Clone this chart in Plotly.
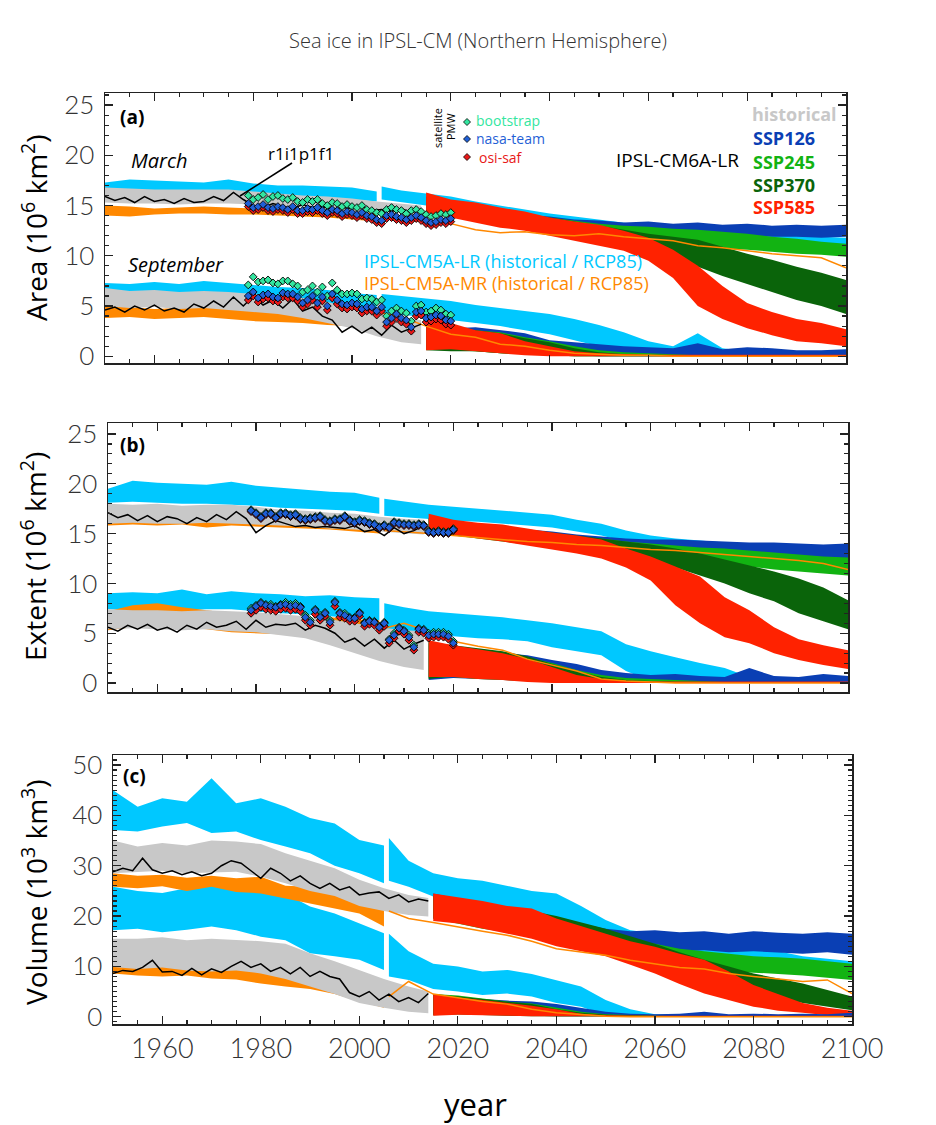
import plotly.graph_objects as go

W, H = 936, 1125

# ---------------- year grids ----------------
YEARS_CM5_H = [1950, 1955, 1960, 1965, 1970, 1975, 1980, 1985, 1990, 1995, 2000, 2005]
YEARS_CM5_F = [2006, 2010, 2015, 2020, 2025, 2030, 2035, 2040, 2045, 2050, 2055, 2060,
               2065, 2070, 2075, 2080, 2085, 2090, 2095, 2100]
YEARS_HIST = [1950, 1955, 1960, 1965, 1970, 1975, 1980, 1985, 1990, 1995, 2000, 2005, 2010, 2014]
YEARS_SSP = [2015, 2020, 2025, 2030, 2035, 2040, 2045, 2050, 2055, 2060, 2065, 2070,
             2075, 2080, 2085, 2090, 2095, 2100]
YEARS_R1 = list(range(1950, 2015, 2))
YEARS_SAT = list(range(1979, 2021))

# ================= (a) AREA =================
A_MAR_LR_H_UP = [17.3, 17.6, 17.5, 17.4, 17.3, 17.6, 17.2, 17.0, 17.0, 16.9, 16.8, 16.4]
A_MAR_LR_H_LO = [16.2, 16.3, 16.2, 16.1, 16.1, 16.0, 15.9, 15.8, 15.8, 15.7, 15.6, 15.4]
A_MAR_LR_F_UP = [16.9, 16.5, 16.2, 15.9, 15.4, 15.0, 14.6, 14.2, 13.9, 13.6, 13.3, 13.0, 12.8, 12.6, 12.4, 12.3, 12.2, 12.0, 11.9, 11.8]
A_MAR_LR_F_LO = [15.6, 15.3, 15.0, 14.7, 14.3, 13.9, 13.5, 13.1, 12.8, 12.5, 12.2, 11.9, 11.7, 11.5, 11.3, 11.2, 11.1, 11.0, 10.9, 10.8]
A_MAR_MR_H_UP = [15.0, 14.9, 14.7, 14.8, 14.9, 14.8, 14.7, 14.7, 14.6, 14.5, 14.4, 14.2]
A_MAR_MR_H_LO = [14.0, 13.9, 14.1, 14.2, 14.2, 14.1, 14.1, 14.0, 13.9, 13.8, 13.6, 13.4]
A_MAR_MR_F = [13.9, 13.6, 13.4, 13.2, 12.6, 12.3, 12.4, 12.1, 12.0, 12.2, 11.9, 11.7, 11.5, 11.0, 10.8, 10.5, 10.2, 10.0, 9.8, 8.8]
A_MAR_HIST_UP = [16.8, 16.7, 16.6, 16.6, 16.6, 16.6, 16.4, 16.2, 16.0, 15.9, 15.7, 15.4, 15.2, 15.0]
A_MAR_HIST_LO = [15.3, 15.2, 15.2, 15.1, 15.2, 15.2, 15.1, 14.9, 14.8, 14.7, 14.5, 14.3, 14.2, 14.1]
A_MAR_R1 = [15.9, 15.5, 15.8, 15.3, 15.9, 15.4, 15.6, 15.2, 15.7, 15.3, 15.4, 15.9, 15.5, 16.3, 15.6, 15.0, 14.8,
            15.2, 14.9, 14.7, 15.1, 14.8, 14.9, 14.6, 14.8, 14.7, 14.9, 14.5, 14.6, 14.4, 14.7, 14.3, 14.6]
A_MAR_126_UP = [15.8, 15.2, 14.9, 14.4, 14.0, 13.9, 13.6, 13.5, 13.3, 13.4, 13.2, 13.3, 13.1, 13.2, 13.0, 13.1, 13.0, 13.1]
A_MAR_126_LO = [14.4, 13.9, 13.6, 13.1, 12.9, 12.7, 12.5, 12.3, 12.2, 12.2, 12.0, 12.1, 11.9, 12.0, 11.9, 11.9, 11.8, 11.9]
A_MAR_245_UP = [15.8, 15.3, 14.8, 14.5, 14.1, 13.8, 13.5, 13.2, 13.0, 12.9, 12.7, 12.6, 12.4, 12.2, 11.9, 11.7, 11.4, 11.2]
A_MAR_245_LO = [14.3, 13.9, 13.5, 13.1, 12.8, 12.5, 12.2, 11.8, 11.5, 11.2, 11.0, 10.9, 10.7, 10.6, 10.4, 10.2, 10.1, 9.9]
A_MAR_370_UP = [15.9, 15.4, 14.9, 14.6, 14.2, 13.8, 13.4, 13.0, 12.6, 12.2, 11.9, 11.6, 10.9, 10.2, 9.6, 8.9, 8.3, 7.6]
A_MAR_370_LO = [14.4, 14.0, 13.6, 13.2, 12.8, 12.4, 12.0, 11.7, 11.0, 10.2, 9.6, 8.9, 8.0, 7.2, 6.4, 5.6, 5.0, 4.2]
A_MAR_585_UP = [16.3, 15.6, 15.3, 14.8, 14.4, 13.8, 13.4, 13.1, 12.5, 11.8, 10.6, 9.0, 7.0, 5.3, 4.4, 3.7, 3.3, 2.7]
A_MAR_585_LO = [14.3, 13.8, 13.3, 12.8, 12.5, 12.0, 11.5, 11.0, 10.5, 9.5, 7.8, 5.0, 3.7, 2.8, 2.1, 1.5, 1.3, 1.0]

A_SEP_LR_H_UP = [7.3, 7.2, 7.4, 7.2, 7.5, 7.3, 7.1, 6.9, 6.8, 6.6, 6.3, 6.1]
A_SEP_LR_H_LO = [6.0, 5.9, 6.0, 5.9, 6.0, 5.9, 5.7, 5.5, 5.2, 4.9, 4.5, 4.2]
A_SEP_LR_F_UP = [6.2, 6.0, 5.8, 5.5, 5.1, 4.8, 4.5, 4.2, 3.7, 3.1, 2.4, 1.5, 1.0, 2.3, 0.8, 0.5, 0.3, 0.2, 0.2, 0.1]
A_SEP_LR_F_LO = [4.3, 4.1, 3.9, 3.6, 3.3, 3.0, 2.6, 2.2, 1.6, 1.0, 0.5, 0.2, 0.1, 0.1, 0.0, 0.0, 0.0, 0.0, 0.0, 0.0]
A_SEP_MR_H_UP = [5.0, 4.9, 4.7, 4.8, 4.9, 4.7, 4.6, 4.4, 4.3, 4.1, 3.9, 3.7]
A_SEP_MR_H_LO = [3.8, 3.9, 3.7, 3.8, 3.9, 3.7, 3.5, 3.4, 3.3, 3.1, 3.0, 2.8]
A_SEP_MR_F = [4.3, 3.9, 3.0, 2.2, 1.9, 1.2, 1.0, 0.6, 0.3, 0.2, 0.1, 0.1, 0.0, 0.0, 0.0, 0.0, 0.0, 0.0, 0.0, 0.0]
A_SEP_HIST_UP = [6.8, 6.5, 6.6, 6.4, 6.5, 6.4, 6.2, 6.0, 5.8, 5.4, 4.8, 4.2, 3.8, 3.6]
A_SEP_HIST_LO = [5.0, 4.8, 4.9, 4.7, 4.8, 4.6, 4.4, 4.2, 3.8, 3.3, 2.8, 2.0, 1.4, 1.2]
A_SEP_R1 = [4.6, 4.9, 4.4, 5.0, 4.6, 5.1, 4.5, 4.8, 4.4, 5.2, 4.8, 5.5, 4.9, 5.9, 5.0, 6.0, 5.1,
            5.6, 4.8, 5.7, 4.5, 4.9, 4.0, 3.6, 2.4, 3.0, 2.3, 2.9, 2.1, 3.1, 2.4, 2.8, 3.2]
A_SEP_126_UP = [3.4, 2.8, 2.9, 2.6, 2.3, 1.6, 1.4, 1.2, 1.0, 0.9, 0.8, 1.3, 0.7, 0.9, 0.8, 0.6, 0.6, 0.7]
A_SEP_126_LO = [0.8, 0.6, 0.6, 0.5, 0.3, 0.2, 0.1, 0.0, 0.0, 0.0, 0.0, 0.0, 0.0, 0.0, 0.0, 0.0, 0.0, 0.0]
A_SEP_245_UP = [3.0, 2.9, 2.6, 2.4, 1.9, 1.5, 1.0, 0.6, 0.4, 0.3, 0.2, 0.1, 0.1, 0.1, 0.1, 0.1, 0.1, 0.1]
A_SEP_245_LO = [0.7, 0.6, 0.5, 0.3, 0.2, 0.1, 0.0, 0.0, 0.0, 0.0, 0.0, 0.0, 0.0, 0.0, 0.0, 0.0, 0.0, 0.0]
A_SEP_370_UP = [3.1, 2.8, 2.6, 2.3, 1.8, 1.4, 0.8, 0.4, 0.2, 0.1, 0.1, 0.1, 0.1, 0.1, 0.1, 0.1, 0.1, 0.1]
A_SEP_370_LO = [0.6, 0.5, 0.5, 0.3, 0.2, 0.1, 0.0, 0.0, 0.0, 0.0, 0.0, 0.0, 0.0, 0.0, 0.0, 0.0, 0.0, 0.0]
A_SEP_585_UP = [3.6, 3.3, 2.6, 2.3, 1.5, 1.0, 0.5, 0.3, 0.2, 0.15, 0.15, 0.15, 0.15, 0.15, 0.15, 0.15, 0.15, 0.15]
A_SEP_585_LO = [0.6, 0.7, 0.5, 0.3, 0.1, 0.0, 0.0, 0.0, 0.0, 0.0, 0.0, 0.0, 0.0, 0.0, 0.0, 0.0, 0.0, 0.0]

A_MAR_NASA = [15.2, 14.8, 14.9, 15.1, 14.8, 14.7, 14.9, 14.8, 14.6, 14.9, 14.5, 14.5, 14.7, 14.6, 14.8, 14.5, 14.3, 14.6, 14.5, 14.2, 14.4,
              14.3, 14.1, 14.3, 14.0, 13.9, 13.6, 13.5, 14.0, 14.1, 13.9, 13.8, 13.6, 13.8, 14.0, 13.8, 13.5, 13.3, 13.4, 13.6, 13.5, 13.7]
A_MAR_BOOT = [16.0, 15.6, 15.8, 16.1, 15.6, 15.9, 16.0, 15.7, 15.6, 15.8, 15.4, 15.3, 15.6, 15.4, 15.6, 15.2, 15.0, 15.3, 15.2, 14.9, 15.1,
              14.9, 14.8, 15.0, 14.6, 14.5, 14.3, 14.2, 14.6, 14.8, 14.6, 14.5, 14.2, 14.5, 14.6, 14.4, 14.1, 13.9, 14.0, 14.2, 14.1, 14.3]
A_MAR_OSI = [14.9, 14.5, 14.6, 14.8, 14.5, 14.4, 14.6, 14.5, 14.3, 14.6, 14.2, 14.2, 14.4, 14.3, 14.5, 14.2, 14.0, 14.3, 14.2, 13.9, 14.1,
             14.0, 13.8, 14.0, 13.7, 13.6, 13.3, 13.2, 13.7, 13.8, 13.6, 13.5, 13.3, 13.5, 13.7, 13.5, 13.2, 13.0, 13.1, 13.3, 13.2, 13.4]
A_SEP_NASA = [6.0, 6.4, 5.8, 6.1, 6.2, 5.9, 5.8, 6.3, 6.2, 6.2, 5.9, 5.3, 5.6, 6.0, 5.3, 5.9, 5.0, 6.2, 5.6, 5.2, 5.1,
              5.3, 5.2, 4.7, 4.9, 4.9, 4.5, 4.9, 3.4, 3.8, 4.2, 3.8, 3.6, 2.9, 4.4, 4.5, 3.8, 3.9, 4.1, 4.0, 3.6, 3.5]
A_SEP_BOOT = [7.1, 7.9, 7.4, 7.5, 7.6, 7.3, 7.2, 7.5, 7.5, 7.2, 7.0, 6.4, 6.6, 7.0, 6.4, 6.9, 6.0, 7.3, 6.6, 6.2, 6.2,
              6.3, 6.2, 5.7, 5.8, 5.7, 5.4, 5.6, 4.0, 4.5, 4.8, 4.5, 4.3, 3.5, 5.0, 5.1, 4.4, 4.5, 4.8, 4.6, 4.2, 4.1]
A_SEP_OSI = [5.6, 6.0, 5.4, 5.7, 5.8, 5.5, 5.4, 5.9, 5.8, 5.8, 5.5, 4.9, 5.2, 5.6, 4.9, 5.5, 4.6, 5.8, 5.2, 4.8, 4.7,
             4.9, 4.8, 4.3, 4.5, 4.5, 4.1, 4.5, 3.0, 3.4, 3.8, 3.4, 3.2, 2.5, 4.0, 4.1, 3.4, 3.5, 3.7, 3.6, 3.2, 3.1]

# ================= (b) EXTENT =================
B_MAR_LR_H_UP = [19.5, 20.3, 20.1, 20.0, 19.9, 20.2, 19.8, 19.6, 19.4, 19.2, 19.1, 18.6]
B_MAR_LR_H_LO = [18.1, 18.2, 18.1, 18.0, 18.0, 17.9, 17.8, 17.6, 17.5, 17.4, 17.3, 17.0]
B_MAR_LR_F_UP = [18.5, 18.2, 17.9, 17.7, 17.5, 17.3, 17.1, 16.9, 16.4, 16.0, 15.3, 14.8, 14.5, 14.3, 14.1, 13.9, 13.6, 13.3, 13.0, 12.7]
B_MAR_LR_F_LO = [16.8, 16.7, 16.5, 16.3, 16.2, 16.0, 15.8, 15.6, 15.2, 14.8, 14.2, 13.8, 13.5, 13.2, 12.9, 12.7, 12.4, 12.1, 11.9, 11.7]
B_MAR_MR_H_UP = [16.9, 16.8, 16.8, 16.7, 16.7, 16.6, 16.6, 16.5, 16.4, 16.2, 16.0, 15.8]
B_MAR_MR_H_LO = [15.8, 15.9, 15.8, 15.9, 15.6, 15.8, 15.7, 15.6, 15.5, 15.4, 15.2, 15.0]
B_MAR_MR_F = [15.3, 15.2, 15.0, 14.8, 14.6, 14.4, 14.2, 14.1, 13.9, 13.8, 13.6, 13.4, 13.3, 13.1, 12.9, 12.7, 12.5, 12.3, 12.0, 11.4]
B_MAR_HIST_UP = [18.0, 17.9, 18.0, 17.8, 17.9, 17.9, 17.7, 17.4, 17.3, 17.1, 17.0, 16.7, 16.5, 16.4]
B_MAR_HIST_LO = [16.0, 16.1, 16.0, 16.0, 16.1, 16.0, 15.9, 15.8, 15.7, 15.5, 15.4, 15.2, 15.0, 14.9]
B_MAR_R1 = [17.1, 16.6, 16.9, 16.3, 16.8, 16.2, 16.7, 16.5, 16.0, 16.6, 16.2, 16.9, 16.4, 17.2, 16.5, 15.1, 15.8,
            16.3, 16.0, 15.7, 15.8, 15.6, 15.7, 15.6, 15.5, 15.8, 15.2, 15.4, 14.8, 15.6, 15.0, 15.3, 15.8]
B_MAR_126_UP = [16.6, 16.2, 15.9, 15.7, 15.4, 15.2, 14.9, 14.7, 14.5, 14.4, 14.4, 14.3, 14.2, 14.1, 14.1, 14.0, 13.9, 14.0]
B_MAR_126_LO = [15.2, 14.9, 14.6, 14.4, 14.0, 13.8, 13.6, 13.4, 13.2, 13.0, 13.0, 12.9, 12.8, 12.7, 12.6, 12.6, 12.5, 12.5]
B_MAR_245_UP = [16.5, 16.2, 15.9, 15.6, 15.3, 15.0, 14.7, 14.5, 14.2, 14.0, 13.8, 13.6, 13.5, 13.3, 13.1, 12.9, 12.7, 12.6]
B_MAR_245_LO = [15.0, 14.8, 14.5, 14.2, 13.9, 13.6, 13.3, 13.1, 12.8, 12.6, 12.4, 12.2, 12.0, 11.7, 11.4, 11.2, 11.0, 10.8]
B_MAR_370_UP = [16.5, 16.2, 15.9, 15.7, 15.4, 15.1, 14.8, 14.5, 14.2, 13.9, 13.5, 13.0, 12.4, 11.8, 11.2, 10.5, 9.6, 8.3]
B_MAR_370_LO = [15.0, 14.8, 14.6, 14.3, 14.0, 13.7, 13.4, 13.0, 12.6, 12.2, 11.6, 10.8, 10.0, 9.0, 8.2, 7.0, 6.2, 5.4]
B_MAR_585_UP = [17.0, 16.4, 16.1, 15.9, 15.5, 15.1, 14.8, 14.4, 13.5, 12.7, 11.7, 10.7, 8.6, 7.3, 5.6, 4.4, 3.8, 3.3]
B_MAR_585_LO = [15.2, 14.9, 14.5, 14.2, 13.8, 13.4, 13.0, 12.5, 11.6, 10.3, 7.8, 6.0, 4.6, 4.0, 3.0, 2.3, 1.8, 1.4]

B_SEP_LR_H_UP = [9.0, 9.1, 9.0, 9.4, 8.9, 9.2, 9.0, 8.9, 8.7, 8.8, 8.6, 8.5]
B_SEP_LR_H_LO = [7.4, 7.3, 7.4, 7.3, 7.4, 7.4, 7.2, 7.0, 6.9, 6.7, 6.5, 6.3]
B_SEP_LR_F_UP = [8.0, 7.6, 7.2, 7.0, 6.8, 6.6, 6.3, 6.0, 5.6, 5.2, 3.9, 3.2, 2.6, 2.0, 1.5, 0.6, 0.3, 0.2, 0.2, 0.1]
B_SEP_LR_F_LO = [5.2, 5.0, 4.8, 4.7, 4.5, 4.4, 4.2, 3.6, 3.2, 2.8, 1.2, 0.2, 0.1, 0.1, 0.0, 0.0, 0.0, 0.0, 0.0, 0.0]
B_SEP_MR_H_UP = [7.2, 7.8, 8.0, 7.6, 7.3, 7.0, 7.0, 6.8, 6.5, 6.6, 6.4, 6.3]
B_SEP_MR_H_LO = [5.3, 5.6, 5.7, 5.6, 5.4, 5.1, 5.0, 4.9, 4.9, 4.8, 4.7, 4.6]
B_SEP_MR_F = [5.5, 6.0, 5.2, 4.2, 3.7, 3.3, 2.4, 1.8, 1.2, 0.4, 0.2, 0.1, 0.0, 0.0, 0.0, 0.0, 0.0, 0.0, 0.0, 0.0]
B_SEP_HIST_UP = [7.4, 7.3, 7.3, 7.2, 7.3, 7.2, 7.1, 6.9, 6.7, 6.4, 6.0, 5.6, 5.3, 5.2]
B_SEP_HIST_LO = [5.4, 5.5, 5.4, 5.3, 5.4, 5.2, 5.1, 4.8, 4.5, 3.8, 3.0, 2.2, 1.6, 1.3]
B_SEP_R1 = [5.6, 5.2, 5.8, 5.4, 5.9, 5.3, 5.6, 5.1, 5.8, 5.4, 6.1, 5.6, 5.8, 6.2, 5.4, 6.3, 5.6,
            5.9, 5.8, 6.0, 5.3, 5.8, 5.5, 5.0, 4.1, 4.5, 3.7, 4.4, 3.5, 4.3, 3.4, 3.9, 4.3]
B_SEP_126_UP = [4.0, 3.6, 3.2, 3.0, 2.8, 2.3, 1.9, 1.3, 1.0, 0.8, 0.9, 0.7, 0.6, 1.5, 0.7, 0.6, 0.9, 0.7]
B_SEP_126_LO = [0.3, 0.5, 0.4, 0.3, 0.2, 0.1, 0.0, 0.0, 0.0, 0.0, 0.0, 0.0, 0.0, 0.0, 0.0, 0.0, 0.0, 0.0]
B_SEP_245_UP = [4.2, 3.7, 3.4, 3.0, 2.6, 2.0, 1.3, 0.8, 0.5, 0.4, 0.3, 0.2, 0.1, 0.1, 0.1, 0.1, 0.1, 0.1]
B_SEP_245_LO = [0.5, 0.6, 0.4, 0.3, 0.2, 0.1, 0.0, 0.0, 0.0, 0.0, 0.0, 0.0, 0.0, 0.0, 0.0, 0.0, 0.0, 0.0]
B_SEP_370_UP = [4.1, 3.8, 3.5, 3.2, 2.7, 1.9, 1.2, 0.6, 0.3, 0.2, 0.1, 0.1, 0.1, 0.1, 0.1, 0.1, 0.1, 0.1]
B_SEP_370_LO = [0.4, 0.7, 0.5, 0.4, 0.2, 0.1, 0.0, 0.0, 0.0, 0.0, 0.0, 0.0, 0.0, 0.0, 0.0, 0.0, 0.0, 0.0]
B_SEP_585_UP = [4.3, 3.8, 3.4, 3.0, 2.4, 1.6, 0.8, 0.4, 0.2, 0.15, 0.15, 0.15, 0.15, 0.15, 0.15, 0.15, 0.15, 0.15]
B_SEP_585_LO = [0.6, 0.6, 0.4, 0.3, 0.1, 0.0, 0.0, 0.0, 0.0, 0.0, 0.0, 0.0, 0.0, 0.0, 0.0, 0.0, 0.0, 0.0]

B_MAR_NASA = [17.3, 17.0, 16.6, 17.0, 17.0, 16.6, 17.0, 17.0, 16.8, 16.9, 16.5, 16.4, 16.5, 16.6, 16.7, 16.3, 16.2, 16.4, 16.4, 16.7, 16.3,
              16.1, 16.3, 16.2, 16.0, 15.9, 15.6, 15.8, 15.6, 16.1, 16.0, 15.9, 15.9, 15.8, 15.9, 15.8, 15.2, 15.1, 15.2, 15.1, 15.1, 15.4]
B_MAR_BOOT = [17.4, 17.1, 16.7, 17.1, 17.1, 16.7, 17.1, 17.1, 16.9, 17.0, 16.6, 16.5, 16.6, 16.7, 16.8, 16.4, 16.3, 16.5, 16.5, 16.8, 16.4,
              16.2, 16.4, 16.3, 16.1, 16.0, 15.7, 15.9, 15.7, 16.2, 16.1, 16.0, 16.0, 15.9, 16.0, 15.9, 15.3, 15.2, 15.3, 15.2, 15.2, 15.5]
B_MAR_OSI = [17.2, 16.9, 16.5, 16.9, 16.9, 16.5, 16.9, 16.9, 16.7, 16.8, 16.4, 16.3, 16.4, 16.5, 16.6, 16.2, 16.1, 16.3, 16.3, 16.6, 16.2,
             16.0, 16.2, 16.1, 15.9, 15.8, 15.5, 15.7, 15.5, 16.0, 15.9, 15.8, 15.8, 15.7, 15.8, 15.7, 15.1, 15.0, 15.1, 15.0, 15.0, 15.3]
B_SEP_NASA = [7.3, 7.7, 8.0, 7.8, 7.7, 7.6, 7.8, 7.9, 7.7, 7.8, 7.6, 6.6, 6.1, 7.3, 6.6, 7.0, 6.1, 8.1, 7.0, 6.8, 6.5,
              6.5, 7.0, 6.0, 6.2, 6.1, 5.6, 6.0, 4.3, 4.8, 5.5, 5.2, 4.6, 3.6, 5.4, 5.3, 4.8, 4.9, 4.9, 4.9, 4.7, 4.0]
B_SEP_BOOT = [7.5, 7.8, 8.1, 7.9, 7.9, 7.7, 7.9, 8.1, 7.9, 8.0, 7.7, 6.8, 6.3, 7.4, 6.8, 7.1, 6.3, 8.2, 7.1, 7.0, 6.6,
              6.6, 7.1, 6.1, 6.3, 6.2, 5.7, 6.1, 4.4, 5.0, 5.6, 5.3, 4.8, 3.8, 5.5, 5.4, 5.0, 5.1, 5.1, 5.1, 4.9, 4.2]
B_SEP_OSI = [7.0, 7.3, 7.6, 7.4, 7.3, 7.2, 7.4, 7.5, 7.3, 7.4, 7.2, 6.3, 5.8, 6.9, 6.3, 6.7, 5.8, 7.7, 6.6, 6.5, 6.2,
             6.2, 6.7, 5.7, 5.9, 5.8, 5.3, 5.7, 4.0, 4.5, 5.2, 4.9, 4.3, 3.3, 5.1, 5.0, 4.5, 4.6, 4.6, 4.6, 4.4, 3.8]

# ================= (c) VOLUME =================
C_MAR_LR_H_UP = [45.0, 41.7, 43.4, 42.7, 47.4, 42.4, 43.4, 41.7, 39.5, 38.4, 35.1, 34.0]
C_MAR_LR_H_LO = [37.1, 36.8, 37.8, 38.5, 36.5, 36.8, 35.1, 33.8, 32.5, 30.0, 28.5, 26.5]
C_MAR_LR_F_UP = [35.5, 31.0, 28.5, 27.5, 27.0, 26.0, 25.0, 24.5, 22.0, 19.2, 17.2, 16.6, 15.5, 14.5, 14.0, 13.5, 13.0, 12.0, 11.5, 11.0]
C_MAR_LR_F_LO = [27.0, 25.8, 23.9, 23.0, 22.5, 21.5, 20.5, 19.2, 18.0, 15.9, 13.9, 13.3, 12.5, 11.5, 11.0, 10.5, 10.0, 9.0, 8.5, 8.0]
C_MAR_MR_H_UP = [28.5, 28.0, 28.2, 27.6, 28.0, 27.5, 27.8, 26.0, 25.8, 24.5, 23.9, 21.5]
C_MAR_MR_H_LO = [25.8, 25.5, 25.9, 25.0, 25.8, 24.8, 24.5, 23.5, 22.5, 21.5, 20.5, 17.9]
C_MAR_MR_F = [21.0, 19.5, 18.7, 17.8, 17.0, 16.2, 15.0, 13.5, 12.8, 12.2, 11.2, 10.5, 9.8, 9.5, 8.6, 8.0, 7.5, 7.0, 7.3, 4.6]
C_MAR_HIST_UP = [35.0, 33.8, 34.5, 34.0, 35.0, 34.8, 34.3, 32.5, 31.0, 29.5, 27.2, 25.5, 24.2, 23.6]
C_MAR_HIST_LO = [28.5, 28.8, 29.0, 28.5, 28.6, 28.8, 27.8, 26.5, 25.0, 24.0, 22.0, 21.0, 20.2, 19.9]
C_MAR_R1 = [28.8, 29.5, 29.0, 31.5, 29.2, 28.5, 29.0, 28.2, 28.8, 28.0, 28.5, 30.0, 31.0, 30.5, 29.0, 27.5, 29.5,
            28.5, 27.0, 28.0, 26.5, 25.5, 26.5, 25.2, 25.8, 24.2, 24.6, 24.8, 23.5, 24.2, 22.8, 23.4, 23.0]
C_MAR_126_UP = [24.5, 23.5, 22.5, 21.5, 20.5, 19.5, 18.5, 17.5, 17.0, 17.2, 16.8, 17.0, 16.5, 17.0, 16.7, 16.5, 16.8, 16.5]
C_MAR_126_LO = [19.5, 18.8, 18.0, 17.0, 16.2, 15.3, 14.5, 13.8, 13.3, 13.2, 13.0, 13.2, 12.8, 13.0, 12.8, 12.5, 12.8, 12.3]
C_MAR_245_UP = [24.0, 23.5, 22.5, 21.5, 20.5, 19.2, 18.0, 16.8, 15.5, 14.5, 13.5, 13.0, 12.5, 12.0, 11.8, 11.5, 11.0, 10.5]
C_MAR_245_LO = [19.5, 18.5, 17.5, 16.8, 15.8, 14.8, 13.8, 12.8, 11.8, 10.8, 10.0, 9.5, 9.0, 8.8, 8.5, 8.2, 7.8, 7.3]
C_MAR_370_UP = [24.0, 23.5, 22.5, 21.8, 21.0, 20.0, 18.8, 17.5, 16.0, 14.5, 12.8, 11.3, 10.0, 8.6, 7.6, 6.6, 5.3, 4.0]
C_MAR_370_LO = [19.5, 18.8, 17.8, 17.0, 16.0, 15.0, 13.8, 12.5, 11.0, 9.8, 8.2, 6.6, 5.6, 4.6, 3.6, 2.7, 2.0, 1.3]
C_MAR_585_UP = [24.5, 23.8, 23.0, 22.0, 21.5, 19.5, 18.0, 16.6, 15.0, 13.9, 12.5, 11.3, 9.0, 6.3, 4.5, 2.7, 1.8, 1.2]
C_MAR_585_LO = [19.0, 18.5, 17.5, 16.5, 15.5, 14.0, 13.0, 12.0, 10.3, 8.6, 6.5, 4.6, 3.3, 2.0, 1.2, 0.8, 0.3, 0.0]

C_SEP_LR_H_UP = [25.8, 25.0, 24.6, 25.5, 26.5, 25.6, 25.8, 24.5, 21.9, 20.5, 18.5, 16.6]
C_SEP_LR_H_LO = [17.2, 17.5, 16.8, 17.3, 17.9, 17.2, 15.9, 15.2, 12.6, 12.0, 11.3, 9.3]
C_SEP_LR_F_UP = [16.5, 13.0, 10.5, 10.0, 9.0, 9.3, 8.5, 7.3, 6.0, 3.3, 1.5, 0.5, 0.3, 0.2, 0.2, 0.2, 0.2, 0.2, 0.2, 0.2]
C_SEP_LR_F_LO = [8.0, 7.3, 5.5, 5.0, 4.3, 4.6, 4.0, 2.7, 2.0, 0.3, 0.1, 0.0, 0.0, 0.0, 0.0, 0.0, 0.0, 0.0, 0.0, 0.0]
C_SEP_MR_H_UP = [11.3, 10.5, 10.8, 10.5, 10.0, 10.2, 9.3, 8.8, 7.8, 7.0, 5.3, 4.5]
C_SEP_MR_H_LO = [8.6, 8.2, 8.0, 8.2, 7.6, 7.4, 6.6, 6.0, 5.5, 4.5, 3.0, 1.8]
C_SEP_MR_F = [4.0, 7.0, 4.5, 3.8, 3.0, 2.5, 1.5, 0.8, 0.4, 0.1, 0.0, 0.0, 0.0, 0.0, 0.0, 0.0, 0.0, 0.0, 0.0, 0.0]
C_SEP_HIST_UP = [15.5, 15.5, 15.8, 15.2, 15.5, 15.2, 15.0, 14.5, 12.6, 11.0, 9.3, 7.5, 6.0, 5.0]
C_SEP_HIST_LO = [9.9, 9.5, 9.8, 9.2, 9.0, 9.2, 8.6, 7.5, 6.0, 4.5, 2.7, 1.8, 1.0, 0.7]
C_SEP_R1 = [8.6, 9.2, 9.0, 9.8, 11.2, 8.9, 9.0, 8.2, 9.6, 8.3, 9.5, 8.8, 10.0, 11.0, 9.8, 10.5, 9.0,
            9.8, 8.5, 9.8, 8.0, 9.0, 8.0, 7.5, 4.8, 4.0, 5.0, 3.3, 4.5, 3.0, 3.8, 2.8, 4.6]
C_SEP_126_UP = [4.5, 4.0, 3.5, 3.2, 3.0, 2.5, 1.8, 1.0, 0.6, 0.5, 0.6, 1.0, 0.5, 0.6, 0.5, 0.6, 0.5, 0.8]
C_SEP_126_LO = [0.5, 0.6, 0.4, 0.3, 0.2, 0.1, 0.0, 0.0, 0.0, 0.0, 0.0, 0.0, 0.0, 0.0, 0.0, 0.0, 0.0, 0.0]
C_SEP_245_UP = [4.5, 4.2, 3.6, 3.0, 2.6, 1.8, 1.0, 0.5, 0.3, 0.2, 0.1, 0.1, 0.1, 0.1, 0.1, 0.1, 0.1, 0.1]
C_SEP_245_LO = [0.4, 0.5, 0.4, 0.3, 0.2, 0.1, 0.0, 0.0, 0.0, 0.0, 0.0, 0.0, 0.0, 0.0, 0.0, 0.0, 0.0, 0.0]
C_SEP_370_UP = [4.3, 4.0, 3.5, 3.0, 2.5, 1.5, 0.8, 0.4, 0.2, 0.1, 0.1, 0.1, 0.1, 0.1, 0.1, 0.1, 0.1, 0.1]
C_SEP_370_LO = [0.3, 0.5, 0.4, 0.2, 0.1, 0.0, 0.0, 0.0, 0.0, 0.0, 0.0, 0.0, 0.0, 0.0, 0.0, 0.0, 0.0, 0.0]
C_SEP_585_UP = [4.5, 3.8, 3.3, 2.8, 2.2, 1.5, 0.6, 0.3, 0.2, 0.2, 0.2, 0.2, 0.2, 0.2, 0.2, 0.2, 0.2, 0.2]
C_SEP_585_LO = [0.2, 0.4, 0.3, 0.2, 0.1, 0.0, 0.0, 0.0, 0.0, 0.0, 0.0, 0.0, 0.0, 0.0, 0.0, 0.0, 0.0, 0.0]

# ---------------- styles ----------------
COL_LR = "#00c8ff"
COL_MR = "#ff8800"
COL_HIST = "#c8c8c8"
COL_126 = "#0a3fb4"
COL_245 = "#12b312"
COL_370 = "#0a640a"
COL_585 = "#ff2200"
COL_BOOT = "#33e6a0"
COL_NASA = "#1f5fd6"
COL_OSI = "#e81818"

FONT_T = "Open Sans, Lato, Roboto, DejaVu Sans, sans-serif"
FONT_L = "Lato, Roboto, Open Sans, sans-serif"


def X(px):
    return px / W


def Y(py):
    return 1 - py / H


fig = go.Figure()


def band(x, up, lo, color, ax):
    fig.add_trace(go.Scatter(x=list(x) + list(x)[::-1], y=list(up) + list(lo)[::-1],
                             fill="toself", fillcolor=color, mode="lines",
                             line=dict(width=0, color=color), hoverinfo="skip",
                             showlegend=False, xaxis="x" + ax, yaxis="y" + ax))


def line(x, y, color, ax, width=1.6):
    fig.add_trace(go.Scatter(x=x, y=y, mode="lines", line=dict(color=color, width=width),
                             hoverinfo="skip", showlegend=False, xaxis="x" + ax, yaxis="y" + ax))


def dots(x, y, color, ax):
    fig.add_trace(go.Scatter(x=x, y=y, mode="markers",
                             marker=dict(symbol="diamond", size=6, color=color,
                                         line=dict(color="black", width=0.9)),
                             hoverinfo="skip", showlegend=False, xaxis="x" + ax, yaxis="y" + ax))


def seasons_of(p):
    g = globals()
    out = []
    for s in ("MAR", "SEP"):
        k = p + "_" + s + "_"
        out.append(dict(
            lr_h=(g[k + "LR_H_UP"], g[k + "LR_H_LO"]), lr_f=(g[k + "LR_F_UP"], g[k + "LR_F_LO"]),
            mr_h=(g[k + "MR_H_UP"], g[k + "MR_H_LO"]), mr_f=g[k + "MR_F"],
            hist=(g[k + "HIST_UP"], g[k + "HIST_LO"]), r1=g[k + "R1"],
            ssp=[(g[k + "126_UP"], g[k + "126_LO"], COL_126), (g[k + "245_UP"], g[k + "245_LO"], COL_245),
                 (g[k + "370_UP"], g[k + "370_LO"], COL_370), (g[k + "585_UP"], g[k + "585_LO"], COL_585)],
            sat=(g.get(k + "BOOT"), g.get(k + "NASA"), g.get(k + "OSI"))))
    return out


for p, ax in (("A", ""), ("B", "2"), ("C", "3")):
    ss = seasons_of(p)
    for s in ss:
        band(YEARS_CM5_H, *s["lr_h"], COL_LR, ax)
        band(YEARS_CM5_F, *s["lr_f"], COL_LR, ax)
    for s in ss:
        band(YEARS_CM5_H, *s["mr_h"], COL_MR, ax)
    for s in ss:
        band(YEARS_HIST, *s["hist"], COL_HIST, ax)
    for s in ss:
        for up, lo, c in s["ssp"]:
            band(YEARS_SSP, up, lo, c, ax)
    for s in ss:
        line(YEARS_CM5_F, s["mr_f"], COL_MR, ax, 1.5)
        line(YEARS_R1, s["r1"], "black", ax, 1.5)
    for s in ss:
        boot, nasa, osi = s["sat"]
        if nasa is not None:
            dots(YEARS_SAT, boot, COL_BOOT, ax)
            dots(YEARS_SAT, osi, COL_OSI, ax)
            dots(YEARS_SAT, nasa, COL_NASA, ax)

# ---------------- axes ----------------
AX_COMMON = dict(showline=True, linecolor="#222", linewidth=1.5, mirror="ticks",
                 ticks="inside", tickcolor="#222", tickwidth=1.2, showgrid=False, zeroline=False,
                 automargin=False)

tickfont = dict(family=FONT_L, size=27, color="#333", weight=300)

panels_geo = [
    ("", (105, 846), (93, 363), (-0.67, 26.2), 5, False),
    ("2", (108, 848), (423, 692), (-0.9, 26.1), 5, False),
    ("3", (113, 852), (755, 1024), (-1.45, 52.0), 10, True),
]
layout_axes = {}
for ax, (x0, x1), (y0, y1), yr, dt, showx in panels_geo:
    xa = dict(AX_COMMON, domain=[X(x0), X(x1)], range=[1950, 2100], anchor="y" + ax,
              tick0=1960, dtick=20, ticklen=8, showticklabels=showx, tickfont=tickfont,
              minor=dict(ticks="inside", dtick=5, tick0=1950, ticklen=4, tickcolor="#222", showgrid=False))
    ya = dict(AX_COMMON, domain=[Y(y1), Y(y0)], range=list(yr), anchor="x" + ax,
              tick0=0, dtick=dt, ticklen=8, tickfont=dict(tickfont, size=26),
              minor=dict(ticks="inside", dtick=1, tick0=0, ticklen=4, tickcolor="#222", showgrid=False),
              ticklabelstandoff=4)
    layout_axes["xaxis" + ax] = xa
    layout_axes["yaxis" + ax] = ya

fig.update_layout(width=W, height=H, margin=dict(l=0, r=0, t=0, b=0, pad=0, autoexpand=False),
                  autosize=False, paper_bgcolor="white", plot_bgcolor="white", showlegend=False,
                  **layout_axes)

# ---------------- annotations ----------------
ann = []


def txt(x, y, s, size, color="black", xanchor="center", family=FONT_T, angle=0, weight=None, italic=False):
    f = dict(family=family, size=size, color=color)
    if weight:
        f["weight"] = weight
    if italic:
        f["style"] = "italic"
    ann.append(dict(x=X(x), y=Y(y), xref="paper", yref="paper", text=s, showarrow=False,
                    xanchor=xanchor, yanchor="middle", font=f, textangle=angle))


txt(478, 40, "Sea ice in IPSL-CM (Northern Hemisphere)", 20, "#333", weight=300)
txt(475, 1104, "year", 31, "black")
txt(34, 228, "Area (10<sup>6</sup> km<sup>2</sup>)", 28, angle=-90)
txt(34, 557, "Extent (10<sup>6</sup> km<sup>2</sup>)", 28, angle=-90)
txt(34, 892, "Volume (10<sup>3</sup> km<sup>3</sup>)", 28, angle=-90)

txt(118, 117, "(a)", 19, xanchor="left", weight="bold")
txt(118, 445, "(b)", 19, xanchor="left", weight="bold")
txt(121, 776, "(c)", 19, xanchor="left", weight="bold")

txt(129, 160, "March", 20, xanchor="left", italic=True)
txt(126, 264, "September", 20, xanchor="left", italic=True)
txt(266, 153, "r1i1p1f1", 17, xanchor="left")

txt(438, 128, "satellite", 11, angle=-90)
txt(450, 127, "PMW", 11, angle=-90)
txt(474, 120, "bootstrap", 14, COL_BOOT, xanchor="left")
txt(474, 138, "nasa-team", 14, COL_NASA, xanchor="left")
txt(477, 157, "osi-saf", 14, COL_OSI, xanchor="left")

txt(614, 160, "IPSL-CM6A-LR", 19, xanchor="left")
txt(750, 114, "historical", 18, COL_HIST, xanchor="left", weight="bold")
txt(751, 138, "SSP126", 18, COL_126, xanchor="left", weight="bold")
txt(751, 162, "SSP245", 18, COL_245, xanchor="left", weight="bold")
txt(751, 185, "SSP370", 18, COL_370, xanchor="left", weight="bold")
txt(751, 207, "SSP585", 18, COL_585, xanchor="left", weight="bold")

txt(362, 261, "IPSL-CM5A-LR (historical / RCP85)", 18, COL_LR, xanchor="left")
txt(362, 283, "IPSL-CM5A-MR (historical / RCP85)", 18, COL_MR, xanchor="left")

fig.update_layout(annotations=ann)

# legend diamonds for satellite products
for yy, c in [(122, COL_BOOT), (139, COL_NASA), (157, COL_OSI)]:
    fig.add_shape(type="path", xref="paper", yref="paper",
                  path="M {} {} L {} {} L {} {} L {} {} Z".format(
                      X(467), Y(yy - 3.5), X(470.5), Y(yy), X(467), Y(yy + 3.5), X(463.5), Y(yy)),
                  fillcolor=c, line=dict(color="black", width=0.8))

# arrow line for r1i1p1f1
fig.add_shape(type="line", xref="paper", yref="paper", x0=X(292), y0=Y(163), x1=X(240), y1=Y(196),
              line=dict(color="black", width=1.6))

fig.write_html("out.html", config={"displayModeBar": False, "staticPlot": True},
               post_script="document.body.style.margin='0';document.body.style.padding='0';"
                           "document.body.style.overflow='hidden';")
